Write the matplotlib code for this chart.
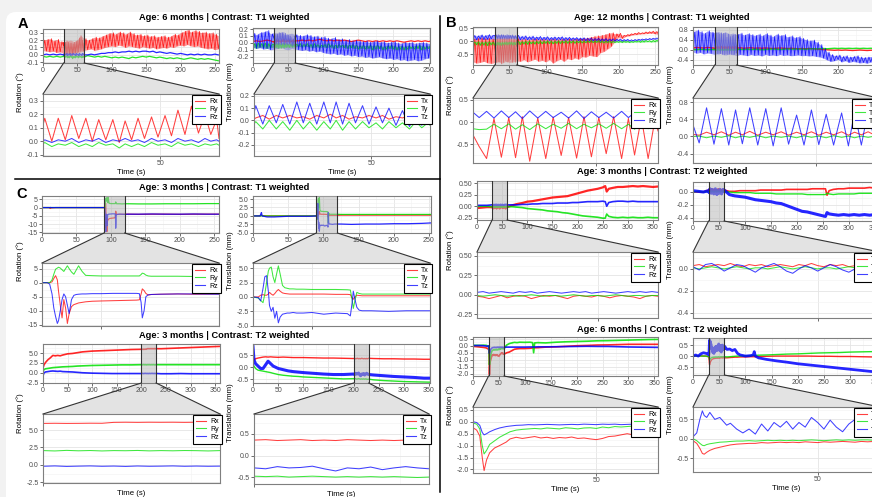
import numpy as np
import matplotlib
matplotlib.use("Agg")
import matplotlib.pyplot as plt
from matplotlib.patches import Polygon, FancyBboxPatch
from matplotlib.lines import Line2D
from matplotlib.ticker import FormatStrFormatter
from matplotlib.transforms import blended_transform_factory

plt.rcParams['font.family'] = ['Liberation Sans', 'DejaVu Sans']

# ---------------- data ----------------
t5 = np.arange(0, 256, 5)

# A : 6 months, T1
a_rx_lo = [0.06, 0.05, 0.04, 0.05, 0.03, 0.04, 0.02, 0.01, 0.02, 0.03,
           0.03, 0.04, 0.06, 0.07, 0.08, 0.06, 0.07, 0.08, 0.10, 0.11,
           0.12, 0.11, 0.13, 0.12, 0.10, 0.12, 0.11, 0.10, 0.09, 0.11,
           0.10, 0.09, 0.10, 0.08, 0.09, 0.10, 0.09, 0.11, 0.10, 0.12,
           0.13, 0.12, 0.14, 0.12, 0.11, 0.12, 0.10, 0.09, 0.08, 0.09,
           0.07, 0.08]
a_rx_hi = [0.20, 0.21, 0.22, 0.19, 0.21, 0.18, 0.17, 0.19, 0.20, 0.18,
           0.21, 0.26, 0.22, 0.20, 0.22, 0.24, 0.23, 0.25, 0.27, 0.29,
           0.30, 0.28, 0.31, 0.30, 0.28, 0.31, 0.29, 0.27, 0.28, 0.26,
           0.27, 0.25, 0.26, 0.24, 0.25, 0.26, 0.24, 0.25, 0.28, 0.27,
           0.30, 0.32, 0.34, 0.31, 0.33, 0.32, 0.30, 0.31, 0.29, 0.30,
           0.28, 0.26]
a_ry = [-0.02, -0.03, -0.02, -0.03, -0.02, -0.03, -0.02, -0.03, -0.02, -0.03,
        -0.02, -0.03, -0.02, -0.01, -0.02, -0.03, -0.02, -0.03, -0.02, -0.03,
        -0.04, -0.03, -0.04, -0.03, -0.04, -0.05, -0.03, -0.04, -0.03, -0.02,
        -0.03, -0.02, -0.03, -0.04, -0.03, -0.04, -0.05, -0.04, -0.05, -0.04,
        -0.05, -0.06, -0.05, -0.04, -0.05, -0.06, -0.05, -0.06, -0.05, -0.06,
        -0.07, -0.08]
a_rz = [0.00, 0.01, 0.00, 0.01, 0.00, 0.01, 0.00, 0.01, 0.01, 0.00,
        0.01, 0.00, 0.01, 0.00, 0.01, 0.00, 0.01, 0.02, 0.02, 0.03,
        0.03, 0.04, 0.03, 0.04, 0.04, 0.05, 0.04, 0.05, 0.04, 0.05,
        0.05, 0.04, 0.05, 0.03, 0.04, 0.03, 0.02, 0.03, 0.02, 0.01,
        0.02, 0.01, 0.00, 0.01, 0.00, 0.01, 0.00, 0.01, 0.00, 0.00,
        0.01, 0.00]
a_tx = [0.02, 0.03, 0.02, 0.03, 0.04, 0.03, 0.02, 0.03, 0.04, 0.03,
        0.02, 0.03, 0.04, 0.03, 0.04, 0.03, 0.04, 0.03, 0.04, 0.05,
        0.04, 0.03, 0.04, 0.03, 0.04, 0.03, 0.04, 0.03, 0.02, 0.03,
        0.04, 0.03, 0.02, 0.03, 0.02, 0.03, 0.02, 0.03, 0.02, 0.03,
        0.02, 0.03, 0.02, 0.01, 0.02, 0.03, 0.02, 0.03, 0.02, 0.03,
        0.02, 0.03]
a_ty_hi = [-0.01, 0.00, -0.01, 0.00, -0.01, -0.02, -0.01, 0.00, -0.01, 0.00,
           -0.01, -0.01, -0.02, -0.01, -0.02, -0.01, -0.02, -0.01, -0.02, -0.03,
           -0.02, -0.01, -0.02, -0.03, -0.02, -0.03, -0.02, -0.03, -0.02, -0.03,
           -0.04, -0.03, -0.04, -0.03, -0.04, -0.03, -0.04, -0.05, -0.04, -0.03,
           -0.04, -0.05, -0.04, -0.05, -0.04, -0.05, -0.04, -0.03, -0.04, -0.05,
           -0.04, -0.03]
a_ty_lo = [-0.07, -0.08, -0.06, -0.07, -0.08, -0.07, -0.06, -0.08, -0.07, -0.06,
           -0.07, -0.06, -0.06, -0.05, -0.06, -0.05, -0.06, -0.07, -0.06, -0.07,
           -0.06, -0.07, -0.06, -0.08, -0.07, -0.06, -0.07, -0.08, -0.07, -0.08,
           -0.09, -0.08, -0.09, -0.08, -0.10, -0.09, -0.08, -0.10, -0.09, -0.08,
           -0.09, -0.10, -0.09, -0.10, -0.09, -0.08, -0.09, -0.08, -0.10, -0.09,
           -0.08, -0.09]
a_tz_hi = [0.14, 0.12, 0.15, 0.16, 0.18, 0.13, 0.15, 0.14, 0.16, 0.12,
           0.13, 0.14, 0.12, 0.11, 0.10, 0.12, 0.11, 0.09, 0.10, 0.08,
           0.09, 0.07, 0.06, 0.08, 0.05, 0.06, 0.04, 0.05, 0.03, 0.04,
           0.03, 0.02, 0.03, 0.01, 0.02, 0.03, 0.01, 0.02, 0.00, 0.01,
           0.02, 0.00, -0.01, 0.01, 0.00, 0.01, -0.01, 0.00, 0.01, 0.00,
           -0.01, 0.00]
a_tz_lo = [-0.06, -0.08, -0.07, -0.09, -0.08, -0.10, -0.09, -0.08, -0.07, -0.09,
           -0.10, -0.08, -0.09, -0.10, -0.11, -0.10, -0.12, -0.11, -0.13, -0.12,
           -0.14, -0.15, -0.16, -0.15, -0.17, -0.16, -0.18, -0.17, -0.19, -0.18,
           -0.20, -0.19, -0.21, -0.20, -0.22, -0.21, -0.20, -0.22, -0.23, -0.22,
           -0.24, -0.23, -0.25, -0.24, -0.26, -0.25, -0.24, -0.26, -0.25, -0.23,
           -0.22, -0.20]
a_tw = [30.0, 30.3, 31.5, 32.6, 33.8, 34.9, 36.1, 37.3, 38.4, 39.5,
        40.7, 41.9, 43.0, 44.0, 45.1, 46.2, 47.3, 48.5, 49.6, 50.8,
        51.9, 53.0, 54.2, 55.3, 56.5, 57.6, 58.6, 59.6, 60.0]
a_rx_win = [0.12, 0.17, 0.00, 0.17, 0.01, 0.19, 0.02, 0.17, 0.00, 0.16,
            0.01, 0.16, -0.01, 0.15, 0.01, 0.17, 0.02, 0.18, 0.03, 0.19,
            0.04, 0.23, 0.05, 0.26, 0.06, 0.20, 0.05, 0.16, 0.02]
a_ry_win = [-0.02, -0.01, -0.04, -0.02, -0.03, -0.01, -0.04, -0.02, -0.04, -0.01,
            -0.03, -0.02, -0.05, -0.02, -0.04, -0.02, -0.04, -0.01, -0.03, -0.02,
            -0.04, -0.01, -0.03, -0.02, -0.04, -0.02, -0.03, -0.02, -0.03]
a_rz_win = [0.00, 0.01, -0.01, 0.01, 0.00, 0.02, -0.01, 0.01, 0.00, 0.02,
            -0.01, 0.01, 0.00, 0.02, 0.00, 0.01, -0.01, 0.02, 0.00, 0.01,
            -0.01, 0.02, 0.00, 0.01, -0.01, 0.02, 0.00, 0.01, 0.00]
a_tx_win = [0.01, 0.02, 0.04, 0.01, 0.04, 0.02, 0.04, 0.02, 0.03, 0.01,
            0.04, 0.02, 0.05, 0.02, 0.04, 0.01, 0.03, 0.02, 0.04, 0.02,
            0.04, 0.01, 0.03, 0.02, 0.04, 0.01, 0.03, 0.02, 0.03]
a_ty_win = [-0.03, -0.01, -0.07, 0.00, -0.07, -0.01, -0.08, 0.00, -0.07, -0.01,
            -0.08, -0.01, -0.07, 0.00, -0.08, -0.01, -0.07, -0.01, -0.06, -0.02,
            -0.07, -0.01, -0.06, -0.02, -0.07, -0.01, -0.06, -0.02, -0.04]
a_tz_win = [0.06, 0.12, -0.03, 0.12, -0.02, 0.13, -0.03, 0.15, -0.02, 0.14,
            -0.03, 0.15, -0.02, 0.15, -0.03, 0.14, -0.02, 0.12, -0.03, 0.11,
            -0.02, 0.10, -0.04, 0.08, -0.05, 0.06, -0.04, 0.10, 0.05]

# B : 12 months, T1
b_rx_hi = [0.08, 0.10, 0.12, 0.09, 0.11, 0.08, 0.10, 0.09, 0.11, 0.08,
           0.10, 0.07, 0.09, 0.06, 0.08, 0.05, 0.07, 0.08, 0.06, 0.07,
           0.05, 0.06, 0.08, 0.05, 0.07, 0.06, 0.08, 0.06, 0.07, 0.09,
           0.10, 0.12, 0.15, 0.18, 0.20, 0.22, 0.25, 0.30, 0.32, 0.28,
           0.30, 0.22, 0.25, 0.28, 0.30, 0.33, 0.32, 0.35, 0.36, 0.38,
           0.37, 0.34]
b_rx_lo = [-0.80, -0.85, -0.82, -0.78, -0.84, -0.86, -0.83, -0.80, -0.85, -0.78,
           -0.82, -0.80, -0.76, -0.78, -0.72, -0.80, -0.75, -0.70, -0.78, -0.74,
           -0.80, -0.72, -0.85, -0.76, -0.70, -0.78, -0.68, -0.72, -0.65, -0.70,
           -0.60, -0.62, -0.55, -0.58, -0.60, -0.45, -0.40, -0.30, -0.20, 0.00,
           0.15, 0.10, 0.18, 0.20, 0.24, 0.25, 0.27, 0.28, 0.29, 0.30,
           0.28, 0.25]
b_ry_hi = [-0.03, -0.02, -0.04, -0.03, -0.02, -0.04, -0.03, -0.02, -0.04, -0.03,
           -0.02, -0.03, -0.01, -0.02, -0.01, 0.00, -0.02, -0.01, 0.00, -0.01,
           0.01, 0.00, -0.01, 0.01, 0.00, 0.01, 0.00, 0.01, 0.00, 0.01,
           0.00, 0.01, 0.02, 0.01, 0.02, 0.01, 0.00, 0.01, 0.00, -0.01,
           0.00, 0.01, 0.00, -0.01, 0.00, 0.01, 0.02, 0.03, 0.02, 0.03,
           0.04, 0.05]
b_ry_lo = [-0.15, -0.14, -0.16, -0.15, -0.17, -0.14, -0.16, -0.15, -0.17, -0.14,
           -0.16, -0.15, -0.12, -0.13, -0.11, -0.12, -0.10, -0.11, -0.09, -0.10,
           -0.08, -0.09, -0.10, -0.08, -0.09, -0.07, -0.08, -0.07, -0.08, -0.06,
           -0.07, -0.06, -0.05, -0.06, -0.05, -0.06, -0.07, -0.06, -0.07, -0.06,
           -0.05, -0.06, -0.05, -0.06, -0.05, -0.04, -0.05, -0.04, -0.03, -0.04,
           -0.03, -0.02]
b_rz_hi = [0.22, 0.20, 0.24, 0.21, 0.25, 0.22, 0.24, 0.23, 0.26, 0.22,
           0.25, 0.21, 0.22, 0.18, 0.20, 0.17, 0.19, 0.16, 0.18, 0.15,
           0.17, 0.14, 0.16, 0.15, 0.17, 0.14, 0.15, 0.13, 0.14, 0.12,
           0.13, 0.11, 0.12, 0.10, 0.11, 0.09, 0.10, 0.08, 0.09, 0.07,
           0.08, 0.06, 0.07, 0.05, 0.06, 0.07, 0.08, 0.09, 0.10, 0.11,
           0.12, 0.13]
b_rz_lo = [0.06, 0.05, 0.08, 0.06, 0.07, 0.08, 0.07, 0.09, 0.08, 0.07,
           0.09, 0.08, 0.06, 0.05, 0.07, 0.05, 0.06, 0.04, 0.05, 0.04,
           0.05, 0.03, 0.05, 0.04, 0.05, 0.03, 0.04, 0.03, 0.04, 0.02,
           0.03, 0.01, 0.02, 0.01, 0.02, 0.00, 0.01, 0.00, 0.01, 0.00,
           0.01, 0.00, 0.01, 0.00, 0.01, 0.02, 0.03, 0.04, 0.05, 0.06,
           0.07, 0.08]
b_tx = [0.06, 0.08, 0.07, 0.06, 0.08, 0.07, 0.06, 0.08, 0.07, 0.06,
        0.07, 0.08, 0.06, 0.07, 0.05, 0.06, 0.07, 0.05, 0.06, 0.05,
        0.06, 0.05, 0.04, 0.05, 0.06, 0.05, 0.04, 0.05, 0.04, 0.03,
        0.04, 0.03, 0.04, 0.03, 0.02, 0.01, 0.00, -0.01, -0.02, -0.03,
        -0.02, -0.03, -0.02, -0.03, -0.04, -0.03, -0.02, -0.03, -0.04, -0.03,
        -0.02, -0.03]
b_ty = [0.00, -0.01, 0.01, 0.00, -0.01, 0.00, 0.01, -0.01, 0.00, 0.01,
        0.00, -0.01, 0.00, 0.01, 0.00, 0.01, 0.00, 0.01, 0.00, -0.01,
        0.00, 0.01, 0.02, 0.01, 0.00, 0.01, 0.02, 0.01, 0.02, 0.01,
        0.02, 0.01, 0.02, 0.03, 0.02, 0.03, 0.04, 0.03, 0.04, 0.05,
        0.04, 0.05, 0.04, 0.05, 0.04, 0.05, 0.04, 0.05, 0.04, 0.05,
        0.04, 0.05]
b_tz_hi = [0.70, 0.78, 0.72, 0.65, 0.75, 0.70, 0.68, 0.72, 0.65, 0.70,
           0.62, 0.66, 0.60, 0.66, 0.58, 0.64, 0.60, 0.56, 0.62, 0.55,
           0.64, 0.58, 0.52, 0.62, 0.56, 0.60, 0.50, 0.55, 0.48, 0.52,
           0.45, 0.40, 0.35, 0.38, 0.30, 0.20, 0.05, -0.10, -0.20, -0.25,
           -0.22, -0.28, -0.25, -0.30, -0.28, -0.25, -0.30, -0.32, -0.30, -0.28,
           -0.32, -0.30]
b_tz_lo = [-0.10, -0.15, -0.12, -0.18, -0.14, -0.16, -0.20, -0.15, -0.18, -0.22,
           -0.18, -0.20, -0.24, -0.20, -0.22, -0.25, -0.20, -0.24, -0.22, -0.26,
           -0.20, -0.24, -0.22, -0.25, -0.20, -0.24, -0.22, -0.25, -0.24, -0.22,
           -0.25, -0.24, -0.26, -0.25, -0.28, -0.30, -0.35, -0.42, -0.48, -0.45,
           -0.40, -0.50, -0.45, -0.52, -0.48, -0.50, -0.54, -0.52, -0.55, -0.50,
           -0.56, -0.52]
b_tw = [30.0, 31.0, 32.2, 33.4, 34.6, 35.8, 36.9, 38.0, 39.2, 40.5,
        41.8, 43.0, 44.3, 45.5, 46.8, 48.0, 49.2, 50.4, 51.6, 52.8,
        54.1, 55.2, 56.2, 57.3, 58.4, 59.5, 60.0]
b_rx_win = [-0.29, -0.55, -0.82, 0.08, -0.79, 0.10, -0.80, 0.12, -0.88, 0.09,
            -0.82, 0.11, -0.75, 0.10, -0.81, 0.12, -0.78, 0.10, -0.71, 0.12,
            -0.82, 0.08, -0.74, 0.10, -0.82, 0.05, -0.20]
b_ry_win = [-0.15, -0.17, -0.16, -0.05, -0.15, -0.04, -0.16, -0.06, -0.17, -0.04,
            -0.15, -0.05, -0.14, -0.03, -0.15, -0.05, -0.13, -0.04, -0.14, -0.03,
            -0.15, -0.05, -0.16, -0.04, -0.15, -0.06, -0.05]
b_rz_win = [0.22, 0.10, 0.24, 0.09, 0.25, 0.10, 0.23, 0.08, 0.25, 0.09,
            0.24, 0.10, 0.22, 0.09, 0.25, 0.08, 0.23, 0.10, 0.22, 0.09,
            0.24, 0.10, 0.21, 0.09, 0.22, 0.10, 0.12]
b_tx_win = [0.05, 0.03, 0.10, 0.04, 0.11, 0.03, 0.10, 0.04, 0.12, 0.03,
            0.10, 0.04, 0.11, 0.03, 0.10, 0.04, 0.11, 0.03, 0.10, 0.04,
            0.11, 0.03, 0.10, 0.04, 0.11, 0.03, 0.05]
b_ty_win = [0.00, 0.01, -0.03, 0.01, -0.02, 0.02, -0.03, 0.01, -0.02, 0.02,
            -0.03, 0.01, -0.02, 0.01, -0.03, 0.02, -0.02, 0.01, -0.03, 0.02,
            -0.02, 0.01, -0.03, 0.01, -0.02, 0.01, 0.00]
b_tz_win = [0.27, -0.15, 0.67, -0.18, 0.65, -0.20, 0.62, -0.17, 0.67, -0.20,
            0.65, -0.22, 0.67, -0.18, 0.50, -0.20, 0.62, -0.19, 0.52, -0.20,
            0.55, -0.22, 0.58, -0.20, 0.60, -0.15, 0.10]

# C : 3 months, T1
c_tc = [0, 10, 11, 12, 13, 20, 30, 40, 50, 60, 70, 80, 125, 140, 160, 180, 200, 220, 240, 260]
c_rx = [0.0, 0.0, -0.2, -0.5, -0.2, 0.0, 0.0, 0.0, 0.0, 0.0, 0.0, 0.0,
        -4.0, -4.1, -4.0, -4.0, -4.1, -4.0, -4.0, -4.0]
c_ry = [0.0, 0.0, 0.0, 0.0, 0.0, 0.0, 0.0, 0.0, 0.0, 0.0, 0.0, 0.0,
        2.3, 2.2, 2.2, 2.3, 2.3, 2.3, 2.4, 2.4]
c_rz = [0.0, 0.0, 0.0, 0.1, 0.0, 0.0, 0.0, 0.0, 0.0, 0.0, 0.0, 0.0,
        -4.0, -4.0, -3.9, -4.0, -4.0, -3.9, -4.0, -4.0]
c_tx = [0.0, 0.0, 0.1, 0.2, 0.1, 0.0, 0.0, 0.0, 0.0, 0.0, 0.0, 0.0,
        0.25, 0.25, 0.25, 0.25, 0.25, 0.25, 0.25, 0.25]
c_ty = [0.0, 0.0, 0.0, 0.1, 0.0, 0.0, 0.0, 0.0, 0.0, 0.0, 0.0, 0.0,
        0.45, 0.45, 0.45, 0.45, 0.45, 0.45, 0.45, 0.45]
c_tz = [0.0, 0.0, 0.5, 1.0, 0.0, -0.3, -0.3, -0.2, -0.1, -0.1, -0.1, -0.1,
        -2.4, -2.5, -2.4, -2.4, -2.3, -2.3, -2.2, -2.0]
c_tw = [90.0, 90.9, 91.3, 91.7, 92.0, 92.3, 92.6, 92.8, 93.1, 93.4,
        93.7, 94.0, 94.3, 94.6, 95.0, 95.4, 95.8, 96.2, 96.8, 97.4,
        98.5, 100.0, 102.0, 104.0, 106.0, 106.5, 106.8, 107.0, 107.3, 107.6,
        108.0, 108.5, 110.0, 113.0, 116.0, 120.0]
c_rx_win = [0.0, 0.0, 0.0, 0.3, 1.5, 2.5, 1.0, -3.0, -8.0, -12.5,
            -6.0, -9.0, -14.5, -11.0, -8.5, -7.8, -7.5, -7.2, -7.0, -6.8,
            -6.6, -6.5, -6.4, -6.3, -6.2, -6.1, -4.0, -2.2, -2.8, -3.8,
            -4.4, -4.2, -4.1, -4.0, -4.1, -4.0]
c_ry_win = [0.0, 0.0, 0.0, 1.0, 3.0, 4.8, 5.2, 5.5, 5.2, 4.6,
            4.0, 5.0, 6.0, 5.0, 3.8, 3.0, 4.5, 6.0, 4.0, 2.6,
            2.5, 2.4, 2.4, 2.4, 2.4, 2.4, 2.9, 3.4, 3.2, 2.7,
            2.4, 2.3, 2.3, 2.3, 2.2, 2.3]
c_rz_win = [0.0, 0.0, -0.5, -4.0, -9.0, -12.0, -14.5, -13.5, -10.0, -6.0,
            -4.0, -5.0, -8.0, -11.0, -6.0, -4.5, -4.2, -4.1, -4.0, -4.0,
            -3.9, -3.9, -3.8, -3.8, -3.8, -3.9, -7.0, -12.5, -10.0, -5.0,
            -4.3, -4.2, -4.1, -4.0, -4.0, -4.1]
c_tx_win = [0.0, 0.0, 0.3, 0.4, 0.3, 0.3, 0.5, 0.8, 0.5, 0.3,
            0.6, 1.0, 1.3, 1.0, 0.7, 0.6, 0.55, 0.5, 0.5, 0.5,
            0.5, 0.5, 0.5, 0.45, 0.45, 0.4, -0.2, -0.4, 0.0, 0.3,
            0.25, 0.2, 0.2, 0.2, 0.2, 0.2]
c_ty_win = [0.0, -0.2, -0.6, -1.0, 0.5, 2.5, 4.5, 5.0, 5.2, 3.5,
            2.5, 4.0, 5.4, 4.0, 2.0, 1.6, 1.5, 1.4, 1.4, 1.35,
            1.35, 1.3, 1.3, 1.3, 1.25, 1.2, -0.5, -2.0, -0.5, 0.8,
            0.6, 0.5, 0.5, 0.5, 0.5, 0.5]
c_tz_win = [0.0, -0.1, -0.7, 1.5, 3.5, 3.7, 1.0, -1.5, -2.5, -1.8,
            -3.7, -2.5, -4.5, -3.5, -3.0, -2.9, -2.8, -2.8, -2.7, -2.8,
            -2.8, -2.7, -3.0, -2.8, -2.9, -3.3, -1.0, 1.0, -0.5, -1.8,
            -2.3, -2.4, -2.4, -2.5, -2.4, -2.4]

# C : 3 months, T2
c2_tc = [0, 2, 5, 10, 15, 20, 25, 30, 35, 40, 50, 60, 70, 80, 90, 100,
         120, 140, 160, 180, 240, 260, 280, 300, 320, 340, 360]
c2_rx = [1.2, 2.0, 2.6, 3.3, 3.8, 4.4, 4.3, 4.4, 4.3, 4.5, 4.8, 4.9, 5.1, 5.3, 5.4, 5.5,
         5.6, 5.7, 5.8, 5.9, 6.1, 6.2, 6.3, 6.4, 6.5, 6.6, 6.7]
c2_ry = [0.4, 0.8, 1.0, 1.1, 1.2, 1.3, 1.35, 1.4, 1.45, 1.5, 1.55, 1.6, 1.7, 1.75, 1.8, 1.85,
         1.9, 1.95, 2.0, 2.0, 2.05, 2.05, 2.05, 2.05, 2.05, 2.05, 2.05]
c2_rz = [-0.8, 0.0, 0.2, 0.3, 0.4, 0.45, 0.4, 0.35, 0.4, 0.3, 0.25, 0.2, 0.1, 0.0, -0.05, -0.1,
         -0.15, -0.2, -0.2, -0.2, -0.25, -0.25, -0.2, -0.25, -0.25, -0.25, -0.25]
c2_tx = [0.2, 0.3, 0.35, 0.38, 0.4, 0.42, 0.43, 0.42, 0.43, 0.42, 0.41, 0.42, 0.41, 0.40, 0.40, 0.40,
         0.39, 0.38, 0.38, 0.37, 0.36, 0.35, 0.35, 0.34, 0.34, 0.33, 0.33]
c2_ty = [0.1, 0.05, -0.05, -0.12, -0.14, -0.16, -0.18, -0.2, -0.22, -0.25, -0.3, -0.33, -0.35, -0.37, -0.38, -0.4,
         -0.42, -0.44, -0.46, -0.48, -0.52, -0.55, -0.57, -0.59, -0.6, -0.61, -0.62]
c2_tz = [0.85, 0.3, 0.15, 0.05, -0.05, -0.05, 0.1, 0.25, 0.15, 0.05, -0.05, -0.1, -0.15, -0.18, -0.2, -0.22,
         -0.25, -0.28, -0.3, -0.3, -0.32, -0.35, -0.38, -0.4, -0.42, -0.45, -0.45]
c2_tw = np.arange(200, 231, 2)
c2_rx_win = [5.95, 5.97, 5.95, 5.96, 5.98, 5.97, 6.10, 6.12, 6.10, 6.12, 6.11, 6.12, 6.10, 6.12, 6.11, 6.12]
c2_ry_win = [2.05, 2.00, 2.08, 2.02, 2.06, 2.00, 2.05, 2.03, 2.07, 2.01, 2.05, 2.02, 2.06, 2.04, 2.00, 2.05]
c2_rz_win = [-0.20, -0.15, -0.22, -0.18, -0.15, -0.20, -0.17, -0.22, -0.16, -0.20, -0.18, -0.15, -0.20, -0.17, -0.20, -0.18]
c2_tx_win = [0.36, 0.37, 0.35, 0.36, 0.37, 0.35, 0.36, 0.35, 0.37, 0.36, 0.35, 0.36, 0.35, 0.36, 0.35, 0.37]
c2_ty_win = [-0.47, -0.48, -0.47, -0.49, -0.48, -0.47, -0.48, -0.49, -0.48, -0.49, -0.48, -0.49, -0.48, -0.49, -0.50, -0.49]
c2_tz_win = [-0.28, -0.30, -0.25, -0.28, -0.27, -0.24, -0.30, -0.35, -0.28, -0.30, -0.26, -0.32, -0.28, -0.25, -0.28, -0.30]

# B : 3 months, T2
b2_tc = [0, 10, 20, 70, 80, 90, 100, 110, 120, 130,
         140, 150, 160, 170, 180, 190, 200, 210, 220, 230,
         240, 250, 255, 258, 262, 270, 280, 290, 300, 310,
         320, 330, 340, 350, 360]
b2_rx = [-0.04, -0.03, -0.02, 0.02, 0.05, 0.07, 0.10, 0.11, 0.13, 0.15,
         0.17, 0.19, 0.20, 0.21, 0.22, 0.25, 0.28, 0.31, 0.34, 0.36,
         0.38, 0.41, 0.44, 0.32, 0.38, 0.40, 0.42, 0.42, 0.43, 0.44,
         0.43, 0.44, 0.43, 0.42, 0.43]
b2_ry = [0.00, 0.00, 0.00, -0.01, -0.02, -0.03, -0.05, -0.06, -0.07, -0.08,
         -0.10, -0.11, -0.12, -0.14, -0.15, -0.17, -0.19, -0.21, -0.22, -0.23,
         -0.24, -0.26, -0.26, -0.17, -0.22, -0.24, -0.25, -0.24, -0.25, -0.24,
         -0.25, -0.25, -0.24, -0.25, -0.25]
b2_rz = [0.02, 0.02, 0.02, 0.03, 0.03, 0.04, 0.04, 0.05, 0.05, 0.06,
         0.06, 0.06, 0.07, 0.07, 0.07, 0.08, 0.08, 0.09, 0.10, 0.10,
         0.10, 0.11, 0.10, 0.00, 0.08, 0.10, 0.11, 0.11, 0.10, 0.11,
         0.10, 0.10, 0.10, 0.10, 0.10]
b2_tx = [0.00, 0.00, 0.00, 0.01, 0.01, 0.02, 0.02, 0.02, 0.02, 0.03,
         0.03, 0.03, 0.03, 0.03, 0.04, 0.04, 0.04, 0.04, 0.04, 0.05,
         0.05, 0.05, 0.05, -0.05, 0.02, 0.04, 0.05, 0.05, 0.06, 0.06,
         0.06, 0.06, 0.07, 0.06, 0.06]
b2_ty = [0.00, 0.01, 0.00, 0.00, -0.01, -0.01, -0.01, -0.01, -0.02, -0.02,
         -0.02, -0.02, -0.03, -0.03, -0.03, -0.03, -0.03, -0.03, -0.04, -0.04,
         -0.04, -0.04, -0.04, -0.02, -0.03, -0.04, -0.03, -0.03, -0.03, -0.03,
         -0.02, -0.02, -0.02, -0.02, -0.02]
b2_tz = [0.02, 0.01, 0.00, -0.04, -0.06, -0.07, -0.08, -0.10, -0.12, -0.13,
         -0.14, -0.15, -0.17, -0.18, -0.21, -0.24, -0.27, -0.30, -0.31, -0.33,
         -0.35, -0.37, -0.38, -0.32, -0.34, -0.35, -0.36, -0.35, -0.36, -0.35,
         -0.36, -0.35, -0.36, -0.35, -0.35]
b2_tw = np.arange(30, 61, 1)
b2_rx_win = [-0.02, -0.03, -0.05, -0.03, -0.01, -0.04, -0.02, -0.01, -0.02, -0.05,
             -0.03, -0.01, -0.02, -0.01, -0.03, -0.05, -0.02, -0.01, -0.02, -0.03,
             -0.01, -0.02, -0.04, -0.02, -0.01, -0.02, -0.03, -0.05, -0.02, -0.01,
             -0.02]
b2_ry_win = [-0.01, -0.02, -0.01, 0.00, -0.01, -0.02, -0.01, -0.02, -0.01, 0.00,
             -0.01, -0.02, -0.01, -0.01, -0.02, -0.01, 0.00, -0.01, -0.02, -0.01,
             -0.01, -0.02, -0.01, 0.00, -0.01, -0.02, -0.01, -0.01, -0.02, -0.01,
             -0.01]
b2_rz_win = [0.03, 0.04, 0.02, 0.03, 0.04, 0.03, 0.02, 0.04, 0.03, 0.04,
             0.02, 0.03, 0.04, 0.03, 0.02, 0.03, 0.04, 0.03, 0.04, 0.02,
             0.03, 0.04, 0.03, 0.02, 0.03, 0.04, 0.03, 0.04, 0.03, 0.04,
             0.03]
b2_tx_win = [0.03, 0.04, 0.02, 0.03, 0.04, 0.03, 0.05, 0.03, 0.02, 0.04,
             0.03, 0.04, 0.02, 0.03, 0.04, 0.03, 0.02, 0.04, 0.03, 0.05,
             0.03, 0.02, 0.04, 0.03, 0.04, 0.02, 0.03, 0.04, 0.03, 0.02,
             0.03]
b2_ty_win = [0.01, 0.00, 0.01, 0.02, 0.01, 0.00, 0.01, 0.02, 0.01, 0.00,
             0.01, 0.01, 0.00, 0.01, 0.02, 0.01, 0.00, 0.01, 0.02, 0.01,
             0.00, 0.01, 0.01, 0.00, 0.01, 0.02, 0.01, 0.00, 0.01, 0.02,
             0.01]
b2_tz_win = [0.02, -0.01, 0.04, 0.05, 0.02, -0.02, 0.01, 0.04, 0.03, 0.00,
             -0.03, 0.01, 0.03, 0.05, 0.02, -0.02, -0.04, 0.00, 0.03, 0.01,
             -0.02, 0.01, 0.04, 0.02, -0.01, -0.03, 0.00, 0.02, 0.04, 0.01,
             0.03]

# B : 6 months, T2
b3_tc = [0, 5, 10, 15, 20, 25, 28, 65, 70, 75,
         80, 85, 90, 100, 110, 115, 117, 119, 125, 140,
         160, 180, 200, 220, 240, 260, 280, 300, 320, 340,
         360]
b3_rx = [-0.05, -0.06, -0.08, -0.10, -0.12, -0.15, -0.20, -0.50, -0.45, -0.35,
         -0.25, -0.22, -0.20, -0.20, -0.18, -0.16, -0.15, -0.15, -0.14, -0.10,
         -0.08, -0.04, 0.00, 0.02, 0.05, 0.06, 0.08, 0.10, 0.10, 0.10,
         0.10]
b3_ry = [0.02, 0.03, 0.02, 0.03, 0.04, 0.03, 0.00, 0.05, 0.15, 0.20,
         0.24, 0.22, 0.25, 0.24, 0.25, 0.22, -0.50, 0.20, 0.22, 0.20,
         0.25, 0.28, 0.30, 0.32, 0.35, 0.36, 0.38, 0.40, 0.42, 0.44,
         0.45]
b3_rz = [0.02, 0.01, 0.02, 0.01, 0.00, -0.02, -0.05, -0.10, -0.10, -0.10,
         -0.10, -0.10, -0.10, -0.10, -0.09, -0.09, -0.09, -0.09, -0.08, -0.08,
         -0.07, -0.06, -0.05, -0.04, -0.05, -0.05, -0.07, -0.09, -0.10, -0.11,
         -0.12]
b3_tx = [0.00, 0.00, 0.00, 0.01, 0.00, 0.00, -0.02, -0.08, -0.07, -0.06,
         -0.05, -0.05, -0.04, -0.04, -0.03, -0.03, -0.03, -0.03, -0.02, -0.01,
         0.00, 0.00, 0.00, 0.00, -0.01, -0.01, -0.02, -0.02, -0.03, -0.04,
         -0.05]
b3_ty = [0.00, 0.00, 0.01, 0.00, 0.00, 0.00, -0.02, -0.04, -0.03, -0.02,
         -0.01, 0.00, 0.00, 0.01, 0.02, 0.03, 0.03, 0.03, 0.04, 0.05,
         0.07, 0.09, 0.10, 0.12, 0.14, 0.15, 0.16, 0.18, 0.19, 0.20,
         0.20]
b3_tz = [0.00, 0.05, 0.00, 0.10, 0.15, 0.12, 0.10, 0.30, 0.32, 0.25,
         0.30, 0.12, 0.05, 0.00, 0.02, 0.05, 0.20, 0.00, -0.08, -0.15,
         -0.22, -0.28, -0.35, -0.40, -0.45, -0.50, -0.55, -0.60, -0.65, -0.70,
         -0.72]
b3_tw = [30.0, 30.6, 31.1, 31.5, 31.8, 32.2, 32.7, 33.5, 34.3, 35.4,
         36.0, 37.0, 38.0, 39.0, 40.0, 41.0, 42.0, 43.0, 44.0, 45.0,
         46.0, 47.0, 48.0, 49.0, 50.0, 51.0, 52.0, 53.0, 54.0, 55.0,
         56.0, 57.0, 58.0, 59.0, 60.0]
b3_rx_win = [-0.25, -0.35, -0.60, -1.50, -2.05, -1.60, -1.30, -1.10, -1.00, -0.85,
             -0.72, -0.65, -0.70, -0.66, -0.62, -0.68, -0.65, -0.70, -0.66, -0.68,
             -0.64, -0.70, -0.68, -0.72, -0.75, -0.70, -0.62, -0.60, -0.55, -0.50,
             -0.55, -0.52, -0.58, -0.55, -0.60]
b3_ry_win = [-0.05, -0.10, -0.30, -1.00, -1.35, -1.20, -0.95, -0.80, -0.65, -0.50,
             -0.42, -0.35, -0.32, -0.30, -0.28, -0.30, -0.26, -0.28, -0.30, -0.25,
             -0.27, -0.30, -0.26, -0.25, -0.28, -0.22, -0.25, -0.20, -0.22, -0.20,
             -0.18, -0.20, -0.22, -0.18, -0.20]
b3_rz_win = [0.00, -0.03, -0.15, -0.45, -0.55, -0.50, -0.42, -0.33, -0.26, -0.20,
             -0.18, -0.15, -0.14, -0.12, -0.13, -0.12, -0.11, -0.12, -0.13, -0.12,
             -0.11, -0.12, -0.10, -0.11, -0.12, -0.10, -0.11, -0.10, -0.12, -0.11,
             -0.10, -0.12, -0.11, -0.13, -0.12]
b3_tx_win = [-0.05, -0.12, -0.25, -0.38, -0.40, -0.35, -0.30, -0.25, -0.22, -0.18,
             -0.16, -0.14, -0.13, -0.12, -0.12, -0.10, -0.11, -0.10, -0.09, -0.10,
             -0.09, -0.10, -0.08, -0.09, -0.10, -0.08, -0.09, -0.08, -0.07, -0.08,
             -0.09, -0.07, -0.08, -0.07, -0.08]
b3_ty_win = [0.00, -0.05, -0.12, -0.17, -0.18, -0.15, -0.13, -0.11, -0.09, -0.08,
             -0.07, -0.06, -0.06, -0.05, -0.06, -0.05, -0.04, -0.05, -0.04, -0.05,
             -0.04, -0.05, -0.04, -0.03, -0.04, -0.05, -0.04, -0.03, -0.04, -0.03,
             -0.04, -0.03, -0.03, -0.04, -0.03]
b3_tz_win = [0.05, 0.15, 0.50, 0.72, 0.60, 0.55, 0.68, 0.50, 0.55, 0.35,
             0.40, 0.25, 0.15, 0.25, 0.12, 0.38, 0.20, 0.42, 0.30, 0.45,
             0.25, 0.42, 0.30, 0.55, 0.42, 0.25, 0.48, 0.30, 0.18, 0.38,
             0.50, 0.28, 0.45, 0.30, 0.45]

RED, GREEN, BLUE = '#ff0000', '#00e000', '#0000ff'
W, H = 872, 497


def join(tc, vc, tw, vw):
    tc = np.asarray(tc, float); vc = np.asarray(vc, float)
    tw = np.asarray(tw, float); vw = np.asarray(vw, float)
    a = tc < tw[0]
    b = tc > tw[-1]
    return np.r_[tc[a], tw, tc[b]], np.r_[vc[a], vw, vc[b]]


def L(tc, vc, tw, vw, col, lw):
    t, v = join(tc, vc, tw, vw)
    return (t, v, tw, vw, col, lw, None)


def B(tc, lo, hi, tw, vw, col, lw):
    # fast oscillation in the overview: alternate low / high values + envelope
    tc = np.asarray(tc, float)
    t = np.column_stack([tc, tc + 2.5]).ravel()
    v = np.column_stack([lo, hi]).ravel()
    t, v = join(t, v, tw, vw)
    return (t, v, tw, vw, col, lw, (tc, lo, hi))


fig = plt.figure(figsize=(W / 100, H / 100), dpi=100)
fig.patch.set_facecolor('#f2f2f2')

bg = fig.add_axes([0, 0, 1, 1], zorder=-10)
bg.set_xlim(0, W); bg.set_ylim(H, 0); bg.axis('off')
bg.add_patch(FancyBboxPatch((6, 12), W + 20, H + 20, boxstyle='round,pad=0,rounding_size=10',
                            fc='white', ec='none'))
bg.plot([15, 440], [178.5, 178.5], color='black', lw=1.1)
bg.plot([440, 440], [16, 492], color='black', lw=1.1)


def ax_px(l, t, r, b):
    return fig.add_axes([l / W, 1 - b / H, (r - l) / W, (b - t) / H])


def style(ax, xlim, ylim, yt, fmt, xlabels):
    ax.set_xticks(np.arange(0, 401, 50))
    ax.set_xticks(np.arange(25, 401, 50), minor=True)
    step = yt[1] - yt[0]
    ax.set_yticks(yt)
    ax.set_yticks(np.arange(yt[0] - step / 2, yt[-1] + step, step), minor=True)
    ax.set_xlim(*xlim)
    ax.set_ylim(*ylim)
    ax.yaxis.set_major_formatter(FormatStrFormatter(fmt))
    ax.xaxis.set_major_formatter(FormatStrFormatter('%d'))
    ax.grid(True, which='major', color='#e4e4e4', lw=0.6)
    ax.grid(True, which='minor', color='#f2f2f2', lw=0.4)
    ax.set_axisbelow(True)
    ax.tick_params(which='major', length=2, width=0.5, color='#333333', labelsize=5,
                   labelcolor='#4d4d4d', pad=1)
    ax.tick_params(which='minor', length=0)
    ax.tick_params(axis='x', labelbottom=xlabels)
    for s in ax.spines.values():
        s.set_color('#7f7f7f')
        s.set_linewidth(0.8)


def draw(ro, rz, xlim, win, ylim, yt, fmt, ylab, yl_xy, names, series, zlab, tlab):
    ao = ax_px(*ro)
    az = ax_px(*rz)
    for (to, vo, tw, vw, col, lw, env) in series:
        if env is not None:
            ao.fill_between(env[0], env[1], env[2], color=col, alpha=0.4, lw=0)
        ao.plot(to, vo, color=col, lw=lw, alpha=0.85, solid_joinstyle='round')
        az.plot(tw, vw, color=col, lw=0.75, alpha=0.75)
    ao.axvspan(win[0], win[1], facecolor='#b3b3b3', alpha=0.5, edgecolor='none', zorder=3)
    for w in win:
        ao.axvline(w, color='#333333', lw=0.8, zorder=4)
    style(ao, xlim, ylim, yt, fmt, True)
    style(az, win, ylim, yt, fmt, zlab)
    # zoom connector
    inv = fig.transFigure.inverted()
    bt = blended_transform_factory(ao.transData, ao.transAxes)
    p0 = inv.transform(bt.transform((win[0], 0)))
    p1 = inv.transform(bt.transform((win[1], 0)))
    q0 = inv.transform(az.transAxes.transform((0, 1)))
    q1 = inv.transform(az.transAxes.transform((1, 1)))
    fig.add_artist(Polygon([p0, p1, q1, q0], closed=True, transform=fig.transFigure,
                           fc='#e3e3e3', ec='none', zorder=-1))
    for a, b in ((p0, q0), (p1, q1)):
        fig.add_artist(Line2D([a[0], b[0]], [a[1], b[1]], transform=fig.transFigure,
                              color='#333333', lw=0.8))
    handles = [Line2D([], [], color=s[4], lw=0.8, alpha=0.75) for s in series]
    r, t = rz[2], rz[1]
    leg = az.legend(handles, names, loc='upper right',
                    bbox_to_anchor=((r + 2) / W, 1 - (t + 1) / H),
                    bbox_transform=fig.transFigure, fontsize=5, handlelength=1.4,
                    handletextpad=0.6, borderpad=0.45, labelspacing=0.1,
                    fancybox=False, framealpha=1, edgecolor='black', borderaxespad=0)
    leg.get_frame().set_linewidth(0.8)
    if tlab:
        az.set_xlabel('Time (s)', fontsize=5.6, labelpad=1.5)
    fig.text(yl_xy[0] / W, 1 - yl_xy[1] / H, ylab, rotation=90, ha='center', va='center',
             fontsize=5.6)


ROT, TRA = ['Rx', 'Ry', 'Rz'], ['Tx', 'Ty', 'Tz']
RL, TL = 'Rotation (°)', 'Translation (mm)'

# ---- A
draw((43, 29, 219, 63), (43, 94, 219, 156), (0, 256), (30, 60), (-0.11, 0.35),
     [-0.1, 0.0, 0.1, 0.2, 0.3], '%.1f', RL, (20, 92), ROT,
     [B(t5, a_rx_lo, a_rx_hi, a_tw, a_rx_win, RED, 0.5),
      L(t5, a_ry, a_tw, a_ry_win, GREEN, 0.9),
      L(t5, a_rz, a_tw, a_rz_win, BLUE, 0.9)], True, True)
draw((253, 28, 430, 63), (254, 94, 430, 156), (0, 252), (30, 60), (-0.29, 0.215),
     [-0.2, -0.1, 0.0, 0.1, 0.2], '%.1f', TL, (230, 92), TRA,
     [L(t5, a_tx, a_tw, a_tx_win, RED, 0.9),
      B(t5, a_ty_lo, a_ty_hi, a_tw, a_ty_win, GREEN, 0.5),
      B(t5, a_tz_lo, a_tz_hi, a_tw, a_tz_win, BLUE, 0.5)], True, True)

# ---- C T1
draw((42, 196, 219, 233), (42, 263, 219, 326), (0, 257), (90, 120), (-15.4, 7.0),
     [-15, -10, -5, 0, 5], '%d', RL, (20, 261), ROT,
     [L(c_tc, c_rx, c_tw, c_rx_win, RED, 0.9),
      L(c_tc, c_ry, c_tw, c_ry_win, GREEN, 0.9),
      L(c_tc, c_rz, c_tw, c_rz_win, BLUE, 0.9)], False, False)
draw((253, 196, 431, 233), (253, 263, 430, 326), (0, 253), (90, 120), (-5.05, 5.9),
     [-5.0, -2.5, 0.0, 2.5, 5.0], '%.1f', TL, (230, 261), TRA,
     [L(c_tc, c_tx, c_tw, c_tx_win, RED, 0.9),
      L(c_tc, c_ty, c_tw, c_ty_win, GREEN, 0.9),
      L(c_tc, c_tz, c_tw, c_tz_win, BLUE, 0.9)], False, False)

# ---- C T2
draw((43, 344, 220, 383), (43, 414, 220, 483), (0, 360), (200, 230), (-2.6, 7.3),
     [-2.5, 0.0, 2.5, 5.0], '%.1f', RL, (20, 413), ROT,
     [L(c2_tc, c2_rx, c2_tw, c2_rx_win, RED, 1.2),
      L(c2_tc, c2_ry, c2_tw, c2_ry_win, GREEN, 1.2),
      L(c2_tc, c2_rz, c2_tw, c2_rz_win, BLUE, 1.2)], False, True)
draw((253, 344, 430, 383), (254, 414, 429, 484), (0, 352), (200, 230), (-0.65, 0.96),
     [-0.5, 0.0, 0.5], '%.1f', TL, (230, 413), TRA,
     [L(c2_tc, c2_tx, c2_tw, c2_tx_win, RED, 1.0),
      L(c2_tc, c2_ty, c2_tw, c2_ty_win, GREEN, 1.0),
      L(c2_tc, c2_tz, c2_tw, c2_tz_win, BLUE, 2.2)], False, True)

# ---- B T1 12 months
draw((473, 27, 658, 65), (473, 98, 658, 163), (0, 254), (30, 60), (-0.92, 0.54),
     [-0.5, 0.0, 0.5], '%.1f', RL, (450, 95), ROT,
     [B(t5, b_rx_lo, b_rx_hi, b_tw, b_rx_win, RED, 0.5),
      B(t5, b_ry_lo, b_ry_hi, b_tw, b_ry_win, GREEN, 0.5),
      B(t5, b_rz_lo, b_rz_hi, b_tw, b_rz_win, BLUE, 0.5)], False, False)
draw((693, 27, 878, 65), (693, 98, 878, 163), (0, 255), (30, 60), (-0.62, 0.9),
     [-0.4, 0.0, 0.4, 0.8], '%.1f', TL, (670, 95), TRA,
     [L(t5, b_tx, b_tw, b_tx_win, RED, 1.0),
      L(t5, b_ty, b_tw, b_ty_win, GREEN, 1.0),
      B(t5, b_tz_lo, b_tz_hi, b_tw, b_tz_win, BLUE, 0.5)], False, False)

# ---- B T2 3 months
draw((477, 181, 658, 220), (477, 252, 658, 318), (0, 360), (30, 60), (-0.3, 0.55),
     [-0.25, 0.0, 0.25, 0.5], '%.2f', RL, (450, 250), ROT,
     [L(b2_tc, b2_rx, b2_tw, b2_rx_win, RED, 1.6),
      L(b2_tc, b2_ry, b2_tw, b2_ry_win, GREEN, 1.2),
      L(b2_tc, b2_rz, b2_tw, b2_rz_win, BLUE, 1.2)], False, False)
draw((693, 182, 880, 221), (693, 252, 880, 318), (0, 360), (30, 60), (-0.45, 0.155),
     [-0.4, -0.2, 0.0], '%.1f', TL, (670, 250), TRA,
     [L(b2_tc, b2_tx, b2_tw, b2_tx_win, RED, 1.2),
      L(b2_tc, b2_ty, b2_tw, b2_ty_win, GREEN, 1.0),
      L(b2_tc, b2_tz, b2_tw, b2_tz_win, BLUE, 2.2)], False, False)

# ---- B T2 6 months
draw((473, 337, 658, 376), (473, 407, 658, 473), (0, 357), (30, 60), (-2.15, 0.62),
     [-2.0, -1.5, -1.0, -0.5, 0.0, 0.5], '%.1f', RL, (450, 405), ROT,
     [L(b3_tc, b3_rx, b3_tw, b3_rx_win, RED, 1.2),
      L(b3_tc, b3_ry, b3_tw, b3_ry_win, GREEN, 1.2),
      L(b3_tc, b3_rz, b3_tw, b3_rz_win, BLUE, 1.2)], True, True)
draw((693, 338, 880, 375), (693, 407, 880, 472), (0, 357), (30, 60), (-0.86, 0.82),
     [-0.5, 0.0, 0.5], '%.1f', TL, (670, 405), TRA,
     [L(b3_tc, b3_tx, b3_tw, b3_tx_win, RED, 1.0),
      L(b3_tc, b3_ty, b3_tw, b3_ty_win, GREEN, 1.0),
      L(b3_tc, b3_tz, b3_tw, b3_tz_win, BLUE, 2.0)], True, True)

# titles and panel letters
titles = [(224, 17, 'Age: 6 months | Contrast: T1 weighted'),
          (224, 187, 'Age: 3 months | Contrast: T1 weighted'),
          (224, 335, 'Age: 3 months | Contrast: T2 weighted'),
          (662, 17, 'Age: 12 months | Contrast: T1 weighted'),
          (662, 172, 'Age: 3 months | Contrast: T2 weighted'),
          (662, 329, 'Age: 6 months | Contrast: T2 weighted')]
for x, y, s in titles:
    fig.text(x / W, 1 - y / H, s, ha='center', va='center', fontsize=6.7, fontweight='bold')
for x, y, s in [(23, 24, 'A'), (22, 194, 'C'), (451, 23, 'B')]:
    fig.text(x / W, 1 - y / H, s, ha='center', va='center', fontsize=10.5, fontweight='bold')

fig.savefig('out.png', dpi=100, facecolor=fig.get_facecolor())
